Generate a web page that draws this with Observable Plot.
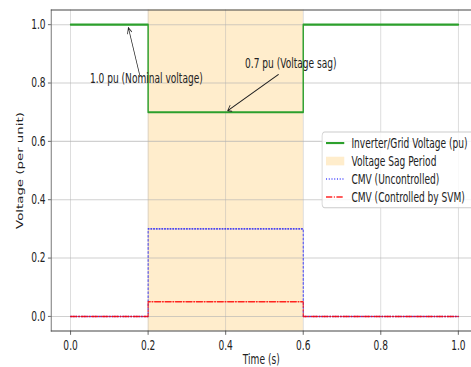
<!DOCTYPE html>
<html>
<head>
<meta charset="utf-8">
<script src="https://cdn.jsdelivr.net/npm/d3@7"></script>
<script src="https://cdn.jsdelivr.net/npm/@observablehq/plot@0.6"></script>
<style>
  html, body { margin: 0; padding: 0; background: #fff; }
  #chart svg { display: block; }
</style>
</head>
<body>
<div id="chart"></div>
<script>
// ---- data ----
const time = [0, 0.2, 0.6, 1.0];
const voltage = [1.0, 0.7, 1.0, 1.0];
const cmvUncontrolled = [0, 0.3, 0, 0];
const cmvControlled = [0, 0.05, 0, 0];
const sagStart = [0.2];
const sagEnd = [0.6];
const xTicks = [0, 0.2, 0.4, 0.6, 0.8, 1.0];
const yTicks = [0, 0.2, 0.4, 0.6, 0.8, 1.0];
const annText = ["1.0 pu (Nominal voltage)", "0.7 pu (Voltage sag)"];
const annTextX = [0.05, 0.45];
const annTextY = [0.8, 0.85];
const annTailX = [0.178, 0.536];
const annTailY = [0.829, 0.829];
const annTipX = [0.149, 0.405];
const annTipY = [0.99, 0.705];
const legendLabels = ["Inverter/Grid Voltage (pu)", "Voltage Sag Period", "CMV (Uncontrolled)", "CMV (Controlled by SVM)"];

const rows = time.map((t, i) => ({t, v: voltage[i], u: cmvUncontrolled[i], c: cmvControlled[i]}));
const ann = annText.map((s, i) => ({s, tx: annTextX[i], ty: annTextY[i], x1: annTailX[i], y1: annTailY[i], x2: annTipX[i], y2: annTipY[i]}));
const sag = sagStart.map((s, i) => ({s, e: sagEnd[i]}));

// The reference figure is a horizontally squeezed image: draw at the
// original proportions and scale the SVG non-uniformly into 471x367.
const OUT_W = 471, OUT_H = 367;
const SX = 0.652, SY = 0.96;
const W = OUT_W / SX, H = OUT_H / SY;

const FONT = "'DejaVu Sans', sans-serif";
const FS = 13.9;
const GREEN = "#2ca02c";
const TXT = "#222";

const chart = Plot.plot({
  width: W,
  height: H,
  marginLeft: 78,
  marginTop: 10,
  marginBottom: 38,
  marginRight: 0,
  style: {fontFamily: FONT, fontSize: FS + "px", color: TXT, background: "#fff"},
  x: {domain: [-0.05, 1.0335]},
  y: {domain: [-0.05, 1.05]},
  marks: [
    Plot.rect(sag, {x1: "s", x2: "e", fill: "orange", fillOpacity: 0.2}),
    Plot.gridX(xTicks, {stroke: "#b0b0b0", strokeOpacity: 0.6, strokeWidth: 1.1}),
    Plot.gridY(yTicks, {stroke: "#b0b0b0", strokeOpacity: 0.6, strokeWidth: 1.1}),
    Plot.axisX(xTicks, {tickFormat: d3.format(".1f"), tickSize: 4.5, tickPadding: 5, label: null, fontSize: FS, stroke: "#444"}),
    Plot.axisY(yTicks, {tickFormat: d3.format(".1f"), tickSize: 4.5, tickPadding: 4, label: null, fontSize: FS, stroke: "#444"}),
    Plot.frame({anchor: "left", stroke: "#444", strokeWidth: 1.1}),
    Plot.frame({anchor: "top", stroke: "#444", strokeWidth: 1.1}),
    Plot.frame({anchor: "bottom", stroke: "#444", strokeWidth: 1.1}),
    Plot.line(rows, {x: "t", y: "v", curve: "step-after", stroke: GREEN, strokeWidth: 2.2}),
    Plot.line(rows, {x: "t", y: "u", curve: "step-after", stroke: "blue", strokeOpacity: 0.7, strokeWidth: 1.6, strokeDasharray: "1.6,2.6"}),
    Plot.line(rows, {x: "t", y: "c", curve: "step-after", stroke: "red", strokeOpacity: 0.85, strokeWidth: 1.6, strokeDasharray: "9.6,2.4,1.6,2.4"}),
    Plot.arrow(ann, {x1: "x1", y1: "y1", x2: "x2", y2: "y2", stroke: TXT, strokeWidth: 1.1, headLength: 9, bend: 0}),
    Plot.text(ann, {x: "tx", y: "ty", text: "s", textAnchor: "start", lineAnchor: "bottom", fontSize: FS, fill: TXT}),
    Plot.text(["Time (s)"], {frameAnchor: "bottom", text: d => d, lineAnchor: "middle", dy: 30, fontSize: FS, fill: TXT}),
    Plot.text(["Voltage (per unit)"], {frameAnchor: "left", text: d => d, rotate: -90, textAnchor: "middle", lineAnchor: "middle", dx: -47, fontSize: FS, fill: TXT})
  ]
});

// ---- legend inside plot area (original coordinates) ----
const svg = d3.select(chart);
const lg = svg.append("g").attr("transform", "translate(494,137.5)")
  .attr("font-family", FONT).attr("font-size", FS).attr("text-anchor", "start");
lg.append("rect").attr("x", 0).attr("y", 0).attr("width", 240).attr("height", 79).attr("rx", 4)
  .attr("fill", "#fff").attr("fill-opacity", 0.8).attr("stroke", "#ccc").attr("stroke-width", 1.1);
const handles = [
  g => g.append("line").attr("x1", 6).attr("x2", 34).attr("stroke", GREEN).attr("stroke-width", 2.2),
  g => g.append("rect").attr("x", 6).attr("y", -4.5).attr("width", 28).attr("height", 9).attr("fill", "orange").attr("fill-opacity", 0.2),
  g => g.append("line").attr("x1", 6).attr("x2", 34).attr("stroke", "blue").attr("stroke-opacity", 0.7).attr("stroke-width", 1.6).attr("stroke-dasharray", "1.6,2.6"),
  g => g.append("line").attr("x1", 6).attr("x2", 34).attr("stroke", "red").attr("stroke-opacity", 0.85).attr("stroke-width", 1.6).attr("stroke-dasharray", "9.6,2.4,1.6,2.4")
];
legendLabels.forEach((lab, i) => {
  const g = lg.append("g").attr("transform", `translate(0,${11.5 + i * 18.75})`);
  handles[i](g);
  g.append("text").attr("x", 45).attr("y", 0).attr("dy", "0.35em").attr("fill", TXT).text(lab);
});

// non-uniform squeeze into the output size
chart.setAttribute("viewBox", `0 0 ${W} ${H}`);
chart.setAttribute("width", OUT_W);
chart.setAttribute("height", OUT_H);
chart.setAttribute("preserveAspectRatio", "none");
chart.style.width = OUT_W + "px";
chart.style.height = OUT_H + "px";
chart.style.maxWidth = "none";

document.getElementById("chart").appendChild(chart);
</script>
</body>
</html>
